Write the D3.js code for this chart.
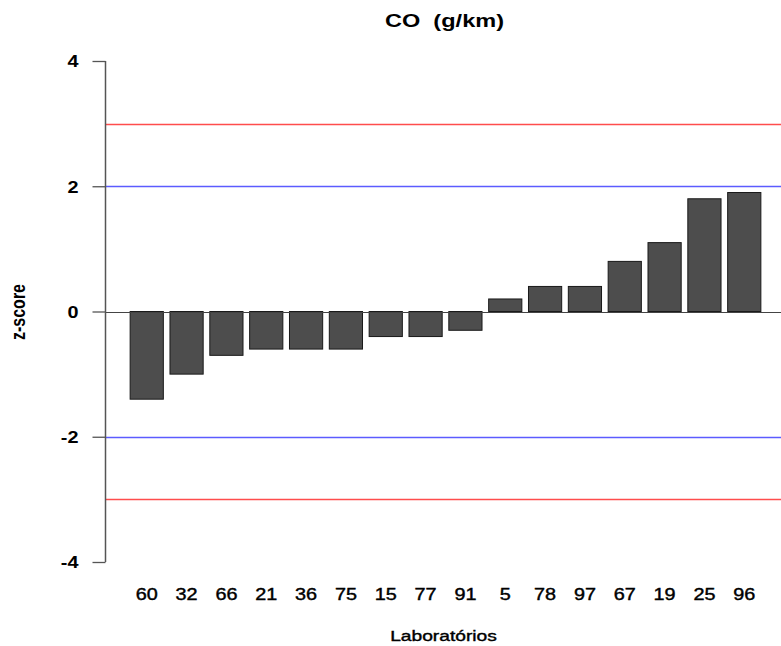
<!DOCTYPE html>
<html>
<head>
<meta charset="utf-8">
<script src="https://cdn.jsdelivr.net/npm/d3@7"></script>
<style>
  body { margin: 0; background: #fff; }
  svg { display: block; }
  text { font-family: "Liberation Sans", Arial, sans-serif; fill: #000; white-space: pre; }
</style>
</head>
<body>
<div id="chart"></div>
<script>
// --- data ---
const labs = ["60", "32", "66", "21", "36", "75", "15", "77", "91", "5", "78", "97", "67", "19", "25", "96"];
const zScores = [-1.4, -1.0, -0.7, -0.6, -0.6, -0.6, -0.4, -0.4, -0.3, 0.2, 0.4, 0.4, 0.8, 1.1, 1.8, 1.9];
const yTicks = [-4, -2, 0, 2, 4];
const limits = [
    { value: 3, color: "#ff4d4d" },
    { value: 2, color: "#5c5cff" },
    { value: -2, color: "#5c5cff" },
    { value: -3, color: "#ff4d4d" },
];

const W = 781, H = 646;
const axisX = 105;
const SX = 1.24; // the reference is stretched sideways, text included

const svg = d3.select("#chart").append("svg")
    .attr("width", W).attr("height", H);

const y = d3.scaleLinear().domain([-4, 4]).range([562, 61]);
const x = d3.scaleBand().domain(labs)
    .range([123.5, 767.5])
    .paddingInner(1 / 6).paddingOuter(1 / 6);

// reference lines
svg.append("g").selectAll("line").data(limits).join("line")
    .attr("x1", axisX).attr("x2", W)
    .attr("y1", d => Math.round(y(d.value)) + 0.5).attr("y2", d => Math.round(y(d.value)) + 0.5)
    .attr("stroke", d => d.color).attr("stroke-width", 1.3);

// bars
svg.append("g").selectAll("rect").data(zScores).join("rect")
    .attr("x", (d, i) => x(labs[i]))
    .attr("width", x.bandwidth())
    .attr("y", d => y(Math.max(0, d)))
    .attr("height", d => Math.abs(y(d) - y(0)))
    .attr("fill", "#4d4d4d")
    .attr("stroke", "#1a1a1a").attr("stroke-width", 1);

// zero line
svg.append("line")
    .attr("x1", axisX).attr("x2", W)
    .attr("y1", Math.round(y(0)) + 0.5).attr("y2", Math.round(y(0)) + 0.5)
    .attr("stroke", "#444").attr("stroke-width", 1);

// y axis
const yAxis = svg.append("g")
    .attr("transform", `translate(${axisX + 0.5},0)`)
    .call(d3.axisLeft(y).tickValues(yTicks).tickFormat(d => String(d))
        .tickSize(13).tickSizeOuter(0));
yAxis.select(".domain").attr("stroke", "#555").attr("stroke-width", 1.5)
    .attr("d", `M0,${y(4)}V${y(-4)}`);
yAxis.selectAll(".tick line").attr("stroke", "#555").attr("stroke-width", 1.3);
yAxis.selectAll(".tick text")
    .attr("x", 0)
    .attr("transform", `translate(-27,0) scale(${SX},1)`)
    .style("font-size", "16px").style("font-weight", "bold")
    .attr("fill", "#000").attr("dy", "0.36em");

// x labels
svg.append("g").selectAll("text").data(labs).join("text")
    .attr("transform", d => `translate(${x(d) + x.bandwidth() / 2},600) scale(${SX},1)`)
    .attr("text-anchor", "middle")
    .attr("stroke", "#000").attr("stroke-width", 0.4)
    .style("font-size", "16px")
    .text(d => d);

// title & axis titles
svg.append("text")
    .attr("transform", `translate(444.5,27) scale(${SX},1)`)
    .attr("text-anchor", "middle")
    .style("font-size", "19px").style("font-weight", "bold")
    .text("CO  (g/km)");

svg.append("text")
    .attr("transform", `translate(443.5,641) scale(${SX},1)`)
    .attr("text-anchor", "middle")
    .attr("stroke", "#000").attr("stroke-width", 0.4)
    .style("font-size", "15.5px")
    .text("Laboratórios");

svg.append("text")
    .attr("transform", `translate(25,312) scale(${SX},1) rotate(-90)`)
    .attr("text-anchor", "middle")
    .style("font-size", "16px").style("font-weight", "bold")
    .text("z-score");
</script>
</body>
</html>
